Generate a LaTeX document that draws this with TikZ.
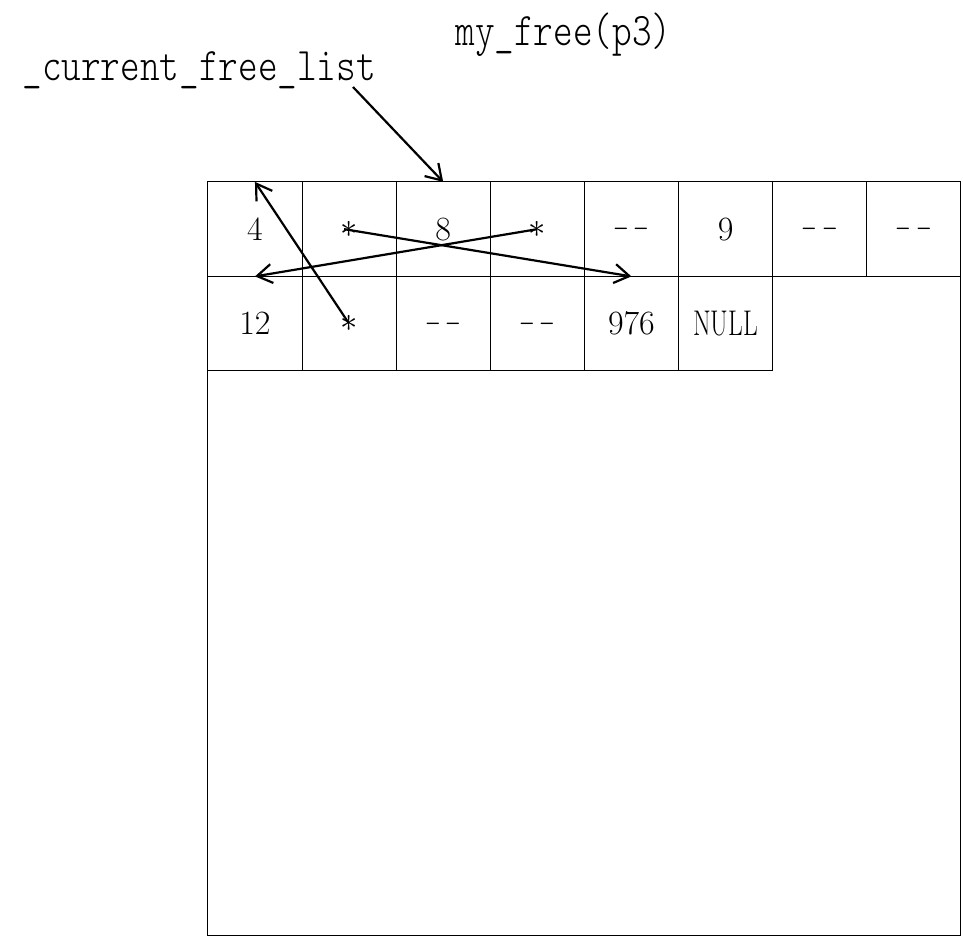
\documentclass[tikz,border=0pt]{standalone}
\usepackage{graphicx}
\usepackage{tikz}
\usetikzlibrary{arrows.meta}
\tikzset{
  slot/.style={
    % The shape:
    shape=rectangle,
    % The size (one word of the heap):
    minimum width=47.06pt, minimum height=47.25pt,
    inner sep=0pt, outer sep=0pt,
    % The border:
    draw=black, line width=0.5pt,
    font=\fontsize{17}{20}\selectfont
  },
  ptr/.style={
    -{Straight Barb[length=7.5pt,width=9.5pt]},
    line width=1.1pt
  },
  lbl/.style={inner sep=0pt, font=\fontsize{18.7}{22}\selectfont\ttfamily\fontseries{l}\selectfont}
}
\newcommand{\tallmono}[1]{\scalebox{1}[1.25]{#1}}
\newcommand{\nodata}{\scalebox{0.58}[1]{$-$}\hspace{2.5pt}\scalebox{0.58}[1]{$-$}}

\begin{document}
\begin{tikzpicture}[x=0.5pt,y=-0.5pt]
	\useasboundingbox (0,0) rectangle (963,937);
	% the block of memory
	\draw[line width=0.5pt] (207,181) rectangle (960,935);
	\matrix (mem) [anchor=north west, inner sep=0pt, column sep=-0.5pt, row sep=-0.5pt] at (207,181) {
		\node[slot] (a1) {4}; & \node[slot] (a2) {$\ast$}; & \node[slot] (a3) {8}; & \node[slot] (a4) {$\ast$}; &
		\node[slot] (a5) {\nodata}; & \node[slot] (a6) {9}; & \node[slot] (a7) {\nodata}; & \node[slot] (a8) {\nodata}; \\
		\node[slot] (b1) {12}; & \node[slot] (b2) {$\ast$}; & \node[slot] (b3) {\nodata}; & \node[slot] (b4) {\nodata}; &
		\node[slot] (b5) {976}; & \node[slot] (b6) {\scalebox{0.75}[1.05]{NULL}}; \\
	};
	% labels
	\node[lbl, anchor=base west] (cfl) at (22,80) {\tallmono{\_current\_free\_list}};
	\node[lbl, anchor=base west] (call) at (455,46) {\tallmono{my\_free(p3)}};
	\coordinate (cfltail) at (353,87);
	% pointers
	\draw[ptr] (cfltail) -- (a3.north);
	\draw[ptr] ([xshift=-2.5pt]a2.center) -- (a5.south);
	\draw[ptr] (a4.center) -- (a1.south);
	\draw[ptr] (b2.center) -- (a1.north);
\end{tikzpicture}
\end{document}
